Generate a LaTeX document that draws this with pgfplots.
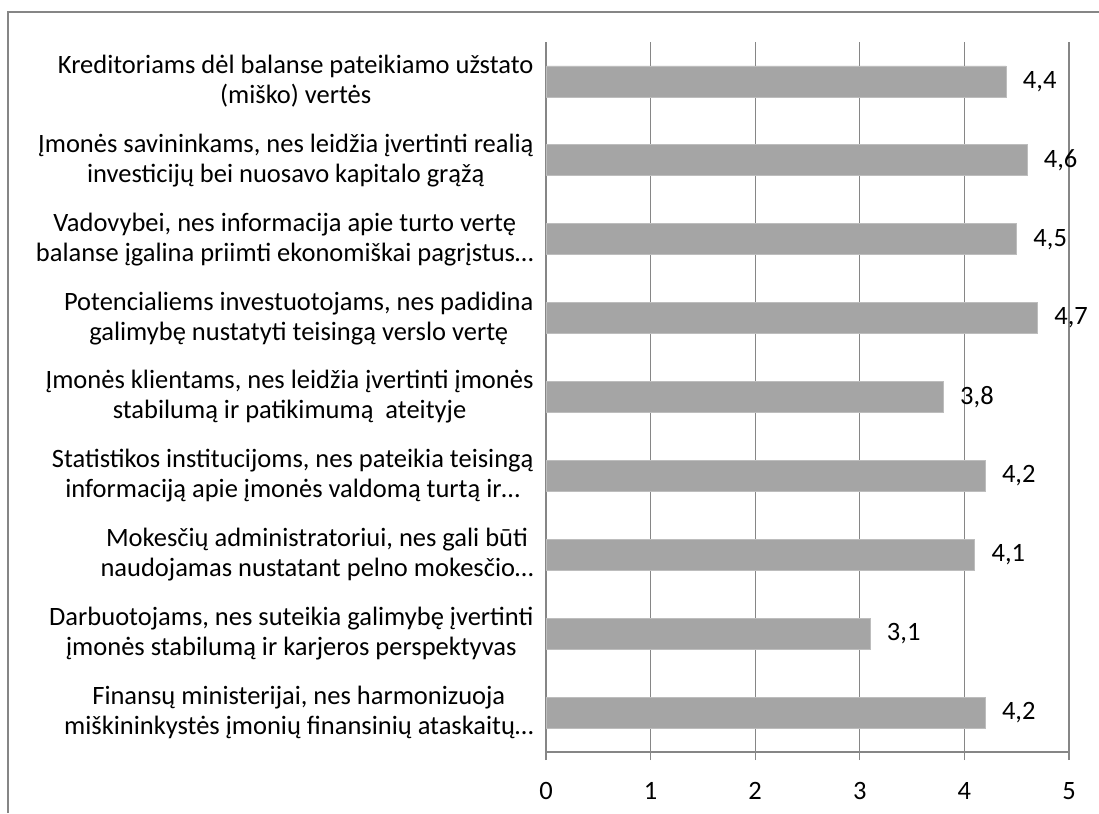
\documentclass[border=0pt]{standalone}
\usepackage{fontspec}
\setmainfont{Carlito}
\usepackage{pgfplots}
\pgfplotsset{compat=1.18}
\definecolor{barfill}{HTML}{A5A5A5}
\definecolor{baredge}{HTML}{BDBDBD}
\definecolor{axisgray}{HTML}{868686}
\begin{document}
\begin{tikzpicture}[x=1pt,y=1pt]
  % outer chart frame
  \path[use as bounding box] (0,0) rectangle (1099,813);
  \draw[axisgray, line width=1.2pt] (8,0) -- (8,801) -- (1099,801);
  \begin{axis}[
    at={(546pt,61pt)}, anchor=south west,
    scale only axis, width=523pt, height=710pt,
    xbar, bar width=31pt,
    xmin=0, xmax=5, xtick={0,...,5},
    xticklabels={0,1,2,3,4,5},
    ymin=-0.5, ymax=8.5, y dir=reverse,
    ytick={0,...,8},
    yticklabels={
      {Kreditoriams dėl balanse pateikiamo užstato\\(miško) vertės},
      {Įmonės savininkams, nes leidžia įvertinti realią\\investicijų bei nuosavo kapitalo grąžą},
      {Vadovybei, nes informacija apie turto vertę\\balanse įgalina priimti ekonomiškai pagrįstus…},
      {Potencialiems investuotojams, nes padidina\\galimybę nustatyti teisingą verslo vertę},
      {Įmonės klientams, nes leidžia įvertinti įmonės\\stabilumą ir patikimumą\ \ ateityje},
      {Statistikos institucijoms, nes pateikia teisingą\\informaciją apie įmonės valdomą turtą ir…},
      {Mokesčių administratoriui, nes gali būti\\naudojamas nustatant pelno mokesčio…},
      {Darbuotojams, nes suteikia galimybę įvertinti\\įmonės stabilumą ir karjeros perspektyvas},
      {Finansų ministerijai, nes harmonizuoja\\miškininkystės įmonių finansinių ataskaitų…}},
    extra y ticks={-0.5,0.5,...,8.5},
    extra y tick labels={},
    extra y tick style={major tick length=6pt, tick align=outside, ytick style={axisgray, line width=1.2pt}},
    ytick style={draw=none},
    xtick style={axisgray, line width=1.2pt},
    tick align=outside, major tick length=8pt,
    axis x line*=bottom, axis y line*=left,
    axis line style={axisgray, line width=1.2pt, -},
    xmajorgrids, major grid style={axisgray, line width=1.2pt},
    ymajorgrids=false,
    /pgf/number format/assume math mode=true,
    /pgf/number format/use comma,
    /pgf/number format/fixed,
    /pgf/number format/precision=1,
    tick label style={font=\fontsize{26.5}{30}\selectfont, text=black},
    yticklabel style={align=center, xshift=-1pt},
    xticklabel style={anchor=north, text height=18pt, text depth=2pt, yshift=-18pt},
    nodes near coords,
    nodes near coords style={font=\fontsize{26.5}{30}\selectfont, anchor=west, xshift=13pt,
      /pgf/number format/fixed zerofill, /pgf/number format/precision=1},
    clip=false,
  ]
    \addplot[fill=barfill, draw=baredge, line width=0.8pt] coordinates {
      (4.4,0) (4.6,1) (4.5,2) (4.7,3) (3.8,4)
      (4.2,5) (4.1,6) (3.1,7) (4.2,8)
    };
  \end{axis}
\end{tikzpicture}
\end{document}
